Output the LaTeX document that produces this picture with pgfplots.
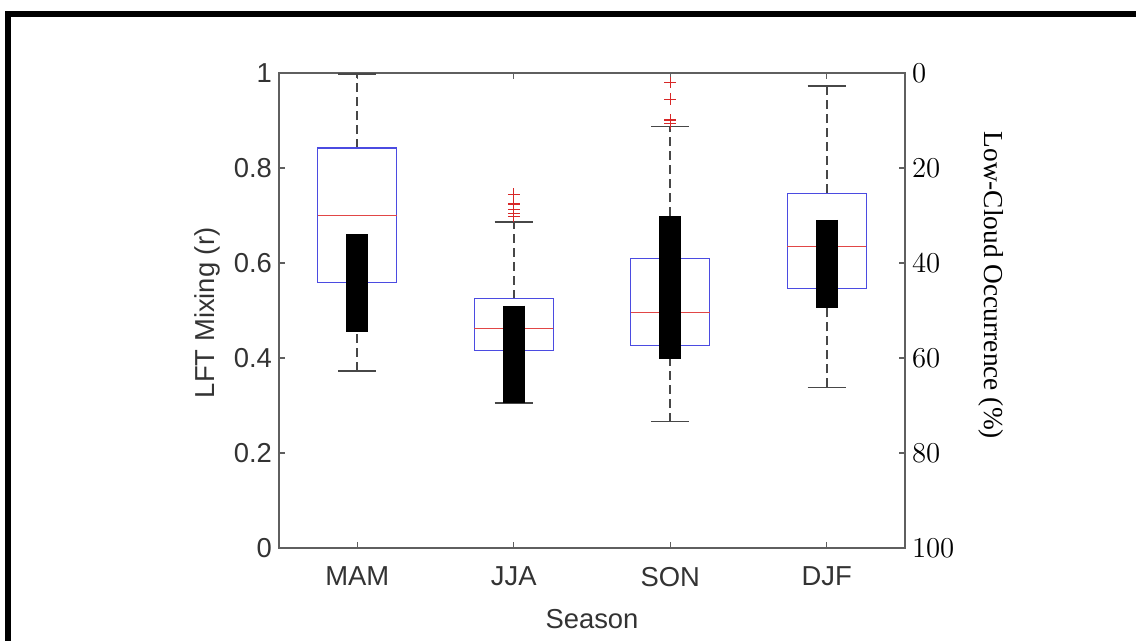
\documentclass[border=0pt]{standalone}
\usepackage{fontspec}
\setmainfont{Liberation Sans}
\newfontfamily\timesfont{Liberation Serif}
\usepackage{pgfplots}
\pgfplotsset{compat=1.18}
\usepgfplotslibrary{statistics}

\definecolor{boxblue}{RGB}{75,75,225}
\definecolor{medred}{RGB}{225,70,70}
\definecolor{outred}{RGB}{215,40,40}
\definecolor{axgray}{RGB}{95,95,95}
\newcommand\lbl{\fontsize{13.7}{16}\selectfont}

\tikzset{
  whiskerline/.style={draw=black!72, line width=0.8pt, dash pattern=on 4.5pt off 2.5pt},
  whiskercap/.style={draw=black!72, line width=0.8pt, solid},
}

\pgfplotsset{
  common/.style={
    scale only axis,
    width=313pt, height=237.5pt,
    at={(139.5pt,46.5pt)}, anchor=south west,
    xmin=0.5, xmax=4.5,
    tick align=inside,
    major tick length=3pt,
    axis line style={axgray, line width=0.75pt},
    tick style={axgray, line width=0.6pt},
  },
}

\begin{document}
\begin{tikzpicture}
\path[use as bounding box] (0,0) rectangle (568pt,320.5pt);

\begin{axis}[
  common,
  ymin=0, ymax=1,
  xtick={1,2,3,4},
  xticklabels={MAM,JJA,SON,DJF},
  xtick pos=both,
  ytick={0,0.2,0.4,0.6,0.8,1},
  yticklabels={0,0.2,0.4,0.6,0.8,1},
  ytick pos=left,
  xticklabel style={font=\lbl, text=black!80, yshift=-6pt},
  yticklabel style={font=\lbl, text=black!80},
  xlabel={Season},
  ylabel={LFT Mixing (r)},
  xlabel style={font=\lbl, text=black!80, at={(axis description cs:0.5,-0.149)}, anchor=center},
  ylabel style={font=\lbl, text=black!80, at={(axis description cs:-0.115,0.495)}, anchor=center},
  boxplot/draw direction=y,
  boxplot/box extend=0.506,
  boxplot/whisker extend=0.244,
  boxplot/every box/.style={draw=boxblue, line width=0.65pt},
  boxplot/every median/.style={draw=medred, line width=0.65pt},
  boxplot/draw/lower whisker/.code={%
    \draw[whiskerline] (boxplot box cs:\pgfplotsboxplotvalue{lower whisker},0.5) -- (boxplot box cs:\pgfplotsboxplotvalue{lower quartile},0.5);
    \draw[whiskercap] (boxplot whisker cs:\pgfplotsboxplotvalue{lower whisker},0) -- (boxplot whisker cs:\pgfplotsboxplotvalue{lower whisker},1);
  },
  boxplot/draw/upper whisker/.code={%
    \draw[whiskerline] (boxplot box cs:\pgfplotsboxplotvalue{upper quartile},0.5) -- (boxplot box cs:\pgfplotsboxplotvalue{upper whisker},0.5);
    \draw[whiskercap] (boxplot whisker cs:\pgfplotsboxplotvalue{upper whisker},0) -- (boxplot whisker cs:\pgfplotsboxplotvalue{upper whisker},1);
  },
]
% MAM
\addplot[black, mark=+, mark size=2.9pt, mark options={solid, draw=outred, line width=0.6pt},
  boxplot prepared={draw position=1, lower whisker=0.373, lower quartile=0.559,
    median=0.700, upper quartile=0.842, upper whisker=0.998}]
  coordinates {};
% JJA
\addplot[black, mark=+, mark size=2.9pt, mark options={solid, draw=outred, line width=0.6pt},
  boxplot prepared={draw position=2, lower whisker=0.305, lower quartile=0.416,
    median=0.462, upper quartile=0.525, upper whisker=0.686}]
  table[row sep=\\, y index=0] {data\\ 0.745\\ 0.724\\ 0.713\\ 0.705\\ 0.698\\};
% SON
\addplot[black, mark=+, mark size=2.9pt, mark options={solid, draw=outred, line width=0.6pt},
  boxplot prepared={draw position=3, lower whisker=0.266, lower quartile=0.427,
    median=0.496, upper quartile=0.610, upper whisker=0.887}]
  table[row sep=\\, y index=0] {data\\ 0.980\\ 0.945\\ 0.901\\ 0.894\\};
% DJF
\addplot[black, mark=+, mark size=2.9pt, mark options={solid, draw=outred, line width=0.6pt},
  boxplot prepared={draw position=4, lower whisker=0.338, lower quartile=0.546,
    median=0.634, upper quartile=0.747, upper whisker=0.973}]
  coordinates {};
\end{axis}

\begin{axis}[
  common,
  ymin=0, ymax=100,
  y dir=reverse,
  axis x line=none,
  axis y line*=right,
  ytick={0,20,40,60,80,100},
  yticklabel style={font=\lbl\timesfont, text=black},
  ylabel={Low-Cloud Occurrence (\%)},
  ylabel style={font=\lbl\timesfont, text=black, at={(axis description cs:1.137,0.553)}, anchor=center, rotate=180},
]
\addplot[black, line width=10.85pt, line cap=butt] coordinates {(1,34.0) (1,54.5)};
\addplot[black, line width=10.85pt, line cap=butt] coordinates {(2,49.0) (2,69.4)};
\addplot[black, line width=10.85pt, line cap=butt] coordinates {(3,30.2) (3,60.2)};
\addplot[black, line width=10.85pt, line cap=butt] coordinates {(4,30.9) (4,49.4)};
\end{axis}

% frame of the figure (top and left edges)
\draw[black, line width=2.75pt] (4pt,0) -- (4pt,313.4pt) -- (568pt,313.4pt);
\end{tikzpicture}
\end{document}
